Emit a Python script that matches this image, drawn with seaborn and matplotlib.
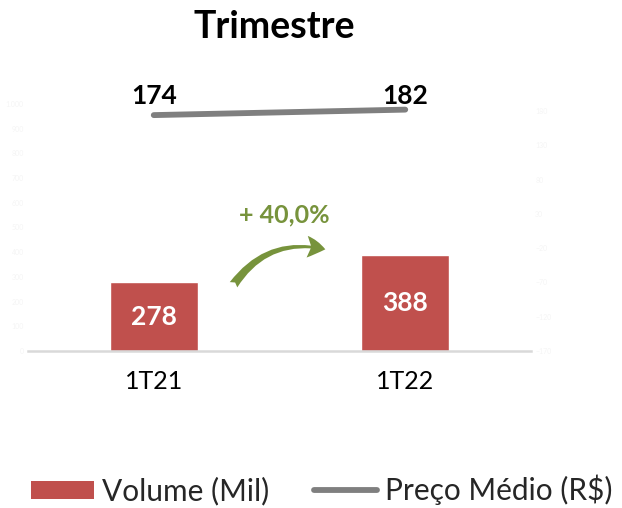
import numpy as np
import pandas as pd
import matplotlib
matplotlib.use("Agg")
import matplotlib.pyplot as plt
import seaborn as sns
from matplotlib.patches import Patch
from matplotlib.lines import Line2D

# dados
categorias = ["1T21", "1T22"]
volume = [278, 388]          # Volume (Mil)
preco = [174, 182]           # Preço Médio (R$)
variacao = "+ 40,0%"

vermelho = "#c0504d"
cinza = "#7f7f7f"
verde = "#77933c"

sns.set_theme(style="white")
plt.rcParams['font.family'] = ['Lato', 'DejaVu Sans']

df = pd.DataFrame({"Trimestre": categorias, "Volume": volume, "Preco": preco})

fig = plt.figure(figsize=(6.22, 5.08), dpi=100)
ax = fig.add_axes([28/622, 1 - 351/508, 503/622, 247/508])

sns.barplot(data=df, x="Trimestre", y="Volume", color=vermelho, width=0.35,
            saturation=1, ax=ax)
ax.set_ylim(0, 1000)
ax.set_xlim(-0.5, 1.5)
ax.set_yticks(np.arange(0, 1001, 100))
ax.set_yticklabels([f"{v:,}".replace(",", ".") for v in range(0, 1001, 100)])
ax.tick_params(axis="y", colors="#f5f5f5", labelsize=5, length=0, pad=3)
ax.tick_params(axis="x", length=0, labelsize=18, colors="black", pad=14)
ax.set_xlabel("")
ax.set_ylabel("")
for s in ["top", "right", "left"]:
    ax.spines[s].set_visible(False)
ax.spines["bottom"].set_color("#d9d9d9")
ax.spines["bottom"].set_linewidth(1.8)

for i, v in enumerate(volume):
    ax.text(i, v / 2, str(v), ha="center", va="center", color="white",
            fontsize=19, fontweight="bold")

# preço médio no eixo secundário
ax2 = ax.twinx()
sns.lineplot(data=df, x="Trimestre", y="Preco", color=cinza, linewidth=4.2,
             ax=ax2, solid_capstyle="round")
ax2.set_ylim(-170, 190.2)
ax2.set_xlim(-0.5, 1.5)
ax2.set_yticks(np.arange(-170, 181, 50))
ax2.tick_params(axis="y", colors="#f5f5f5", labelsize=5, length=0, pad=3)
ax2.set_ylabel("")
for s in ax2.spines.values():
    s.set_visible(False)

# rótulos do preço na mesma altura, logo acima da linha
topo = max(preco)
for i, v in enumerate(preco):
    ax2.annotate(str(v), (i, topo), xytext=(0, 1.5), textcoords="offset points",
                 ha="center", va="bottom", fontsize=19, fontweight="bold",
                 color="black")

# seta de variação
ax.annotate("", xy=(0.693, 409), xytext=(0.311, 259),
            arrowprops=dict(arrowstyle="fancy,head_length=1.1,head_width=1.3,tail_width=0.55",
                            connectionstyle="arc3,rad=-0.35", color=verde, lw=0))
ax.text(0.52, 551, variacao, ha="center", va="center", color=verde,
        fontsize=18, fontweight="bold")

fig.text(274/622, 1 - 27/508, "Trimestre", ha="center", va="center",
         fontsize=27, fontweight="bold", color="black")

handles = [Patch(facecolor=vermelho, edgecolor="none"),
           Line2D([0], [0], color=cinza, linewidth=4.2, solid_capstyle="round")]
fig.legend(handles, ["Volume (Mil)", "Preço Médio (R$)"], loc="center",
           bbox_to_anchor=(0.517, 1 - 490/508), ncol=2, frameon=False,
           fontsize=21.5, handlelength=2.1, handleheight=0.55, handletextpad=0.27,
           columnspacing=1.5, borderpad=0.1)

fig.savefig("out.png", dpi=100, facecolor="white")
